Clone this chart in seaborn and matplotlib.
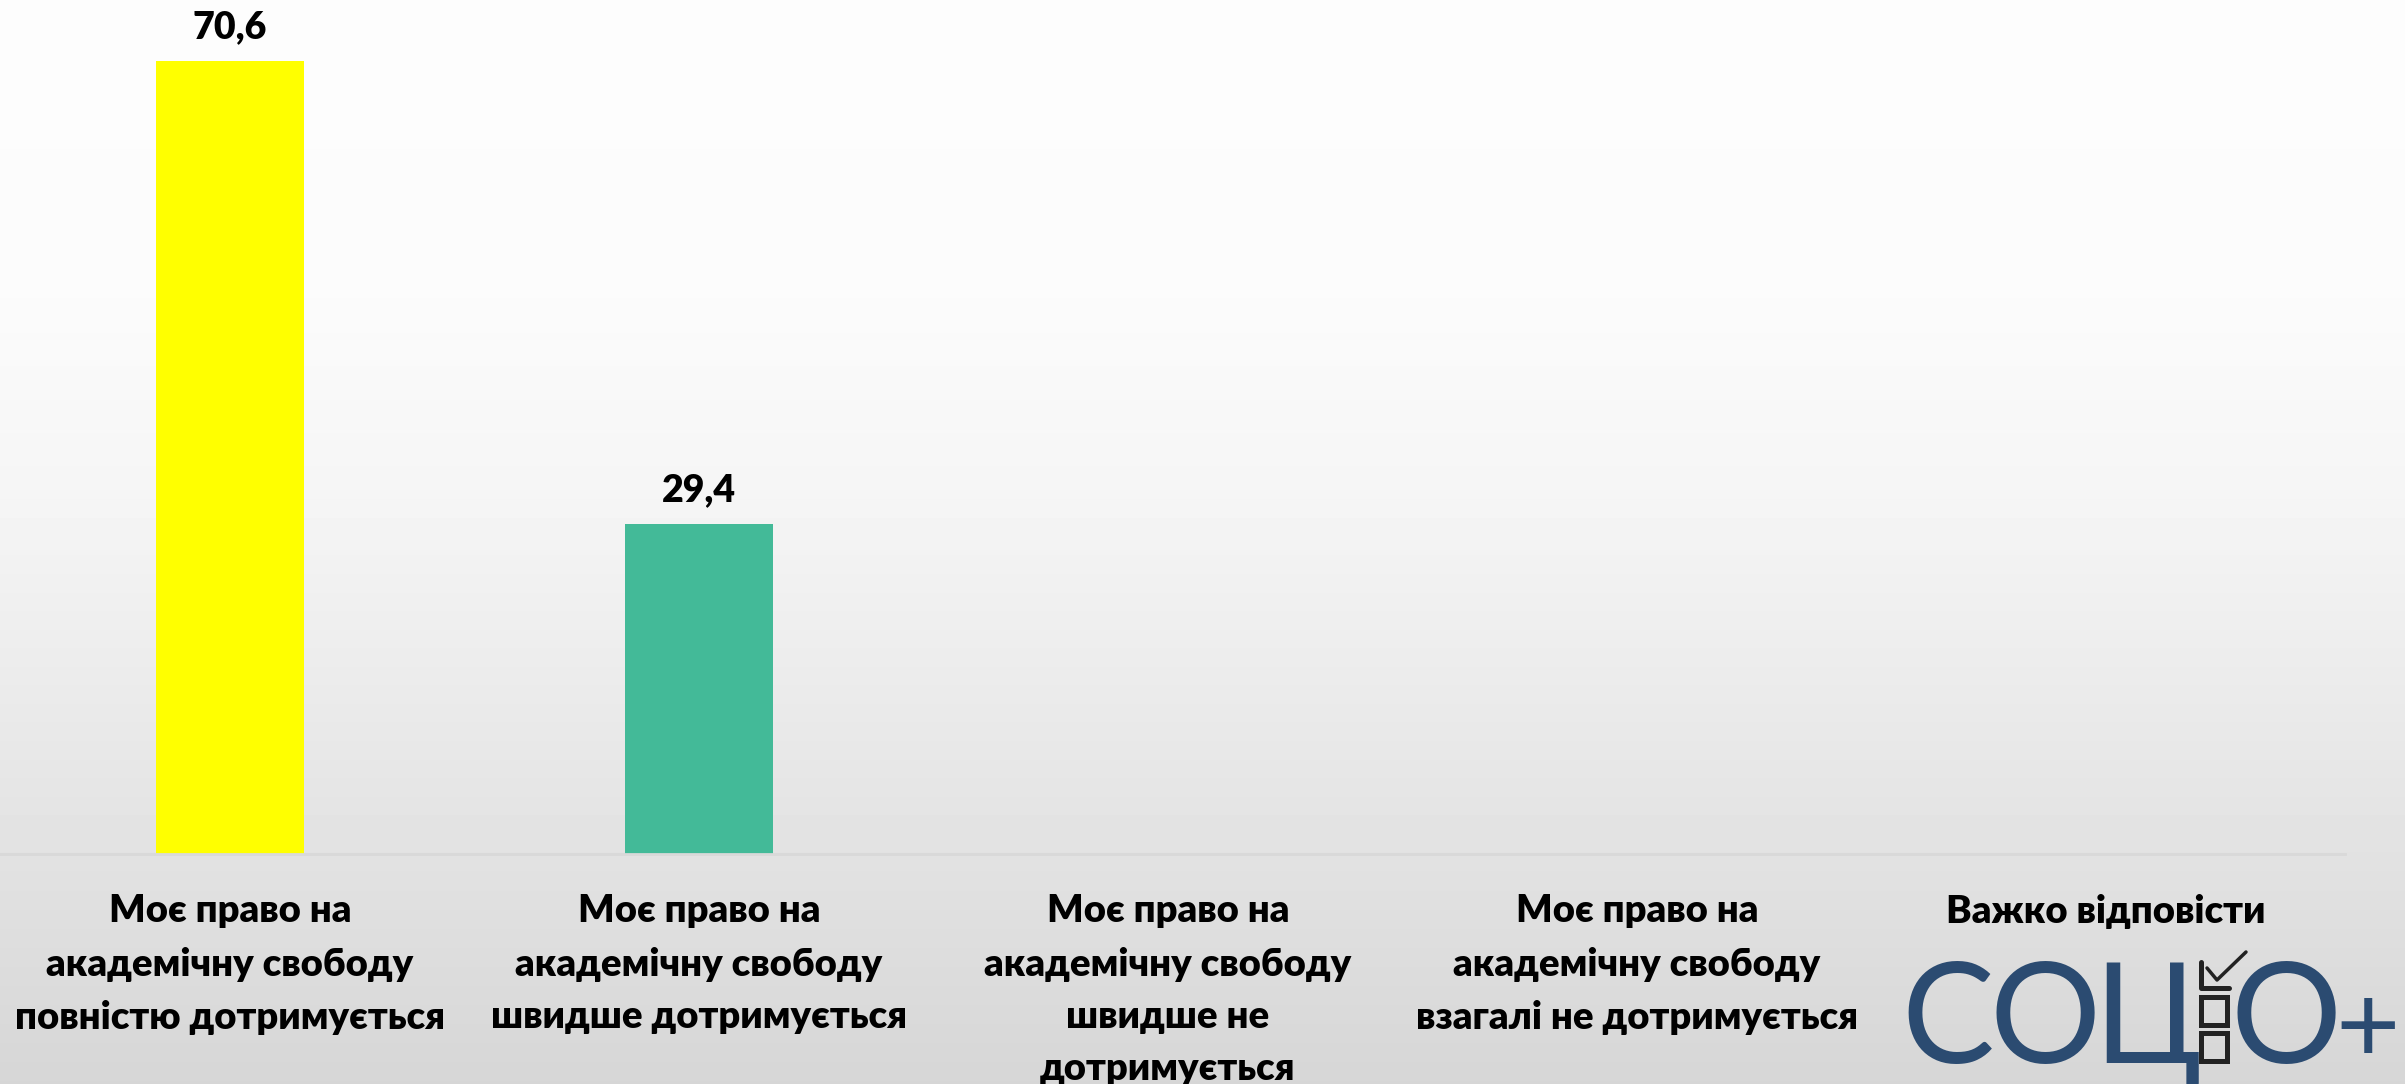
import numpy as np
import pandas as pd
import seaborn as sns
import matplotlib.pyplot as plt
from matplotlib.patches import Rectangle
from matplotlib.lines import Line2D

categories = [
    "Моє право на\nакадемічну свободу\nповністю дотримується",
    "Моє право на\nакадемічну свободу\nшвидше дотримується",
    "Моє право на\nакадемічну свободу\nшвидше не\nдотримується",
    "Моє право на\nакадемічну свободу\nвзагалі не дотримується",
    "Важко відповісти",
]
values = [70.6, 29.4, 0.0, 0.0, 0.0]
bar_colors = ["#FFFF00", "#43BA98", "#43BA98", "#43BA98", "#43BA98"]

W, H = 2405, 1084
sns.set_theme(style="white")
plt.rcParams["font.family"] = ["Lato", "DejaVu Sans"]

fig = plt.figure(figsize=(W / 100, H / 100), dpi=100)


def fx(x):
    return x / W


def fy(y):
    return 1 - y / H


# grey gradient background
bg = fig.add_axes([0, 0, 1, 1], zorder=0)
rows = np.arange(H)
grey = np.interp(rows, [0, 300, 500, 854, 1084], [253, 251, 245, 226, 214]) / 255
bg.imshow(np.repeat(grey[:, None], 4, axis=1), cmap="gray", vmin=0, vmax=1,
          aspect="auto", extent=(0, 1, 0, 1))
bg.axis("off")

ax = fig.add_axes([0, 1 - 854 / H, 2345 / W, 854 / H], zorder=1)
ax.patch.set_alpha(0)
df = pd.DataFrame({"cat": categories, "val": values})
sns.barplot(data=df, x="cat", y="val", hue="cat", palette=bar_colors, width=0.315,
            saturation=1, legend=False, linewidth=0, edgecolor="none", ax=ax)
ax.set_ylim(0, 76)
ax.set_xlim(-0.49, 4.51)
ax.set_xlabel("")
ax.set_ylabel("")
ax.set_yticks([])
for s in ["top", "right", "left"]:
    ax.spines[s].set_visible(False)
ax.spines["bottom"].set_color("#d9d9d9")
ax.spines["bottom"].set_linewidth(2)
ax.tick_params(axis="x", length=0, pad=29, labelsize=27.5, colors="black")
for lab in ax.get_xticklabels():
    lab.set_fontweight("heavy")
    lab.set_linespacing(1.64)

for cont, v in zip(ax.containers, values):
    if v > 0:
        p = cont[0]
        ax.annotate(f"{v:.1f}".replace(".", ","), (p.get_x() + p.get_width() / 2, v),
                    xytext=(0, 16), textcoords="offset points", ha="center",
                    va="baseline", fontsize=27, fontweight="heavy", color="black")

# logo СОЦІО+
blue = "#2b4b71"
for ch, cx in [("С", 1948), ("О", 2045), ("Ц", 2147), ("О", 2286), ("+", 2368)]:
    fig.text(fx(cx), fy(1063), ch, fontsize=100 if ch != "+" else 80, color=blue,
             fontweight="normal", va="baseline", ha="center")
dark = "#222222"
for top in [997, 1033]:
    fig.add_artist(Rectangle((fx(2201), fy(top + 28)), fx(26), 28 / H, fill=False,
                             edgecolor=dark, linewidth=3.6, transform=fig.transFigure))
fig.add_artist(Line2D([fx(2201), fx(2201), fx(2229)], [fy(962), fy(988), fy(988)],
                      color=dark, linewidth=3.6, transform=fig.transFigure))
fig.add_artist(Line2D([fx(2207), fx(2217), fx(2246)], [fy(968), fy(980), fy(952)],
                      color=dark, linewidth=2.5, transform=fig.transFigure))

fig.savefig("out.png", dpi=100)
